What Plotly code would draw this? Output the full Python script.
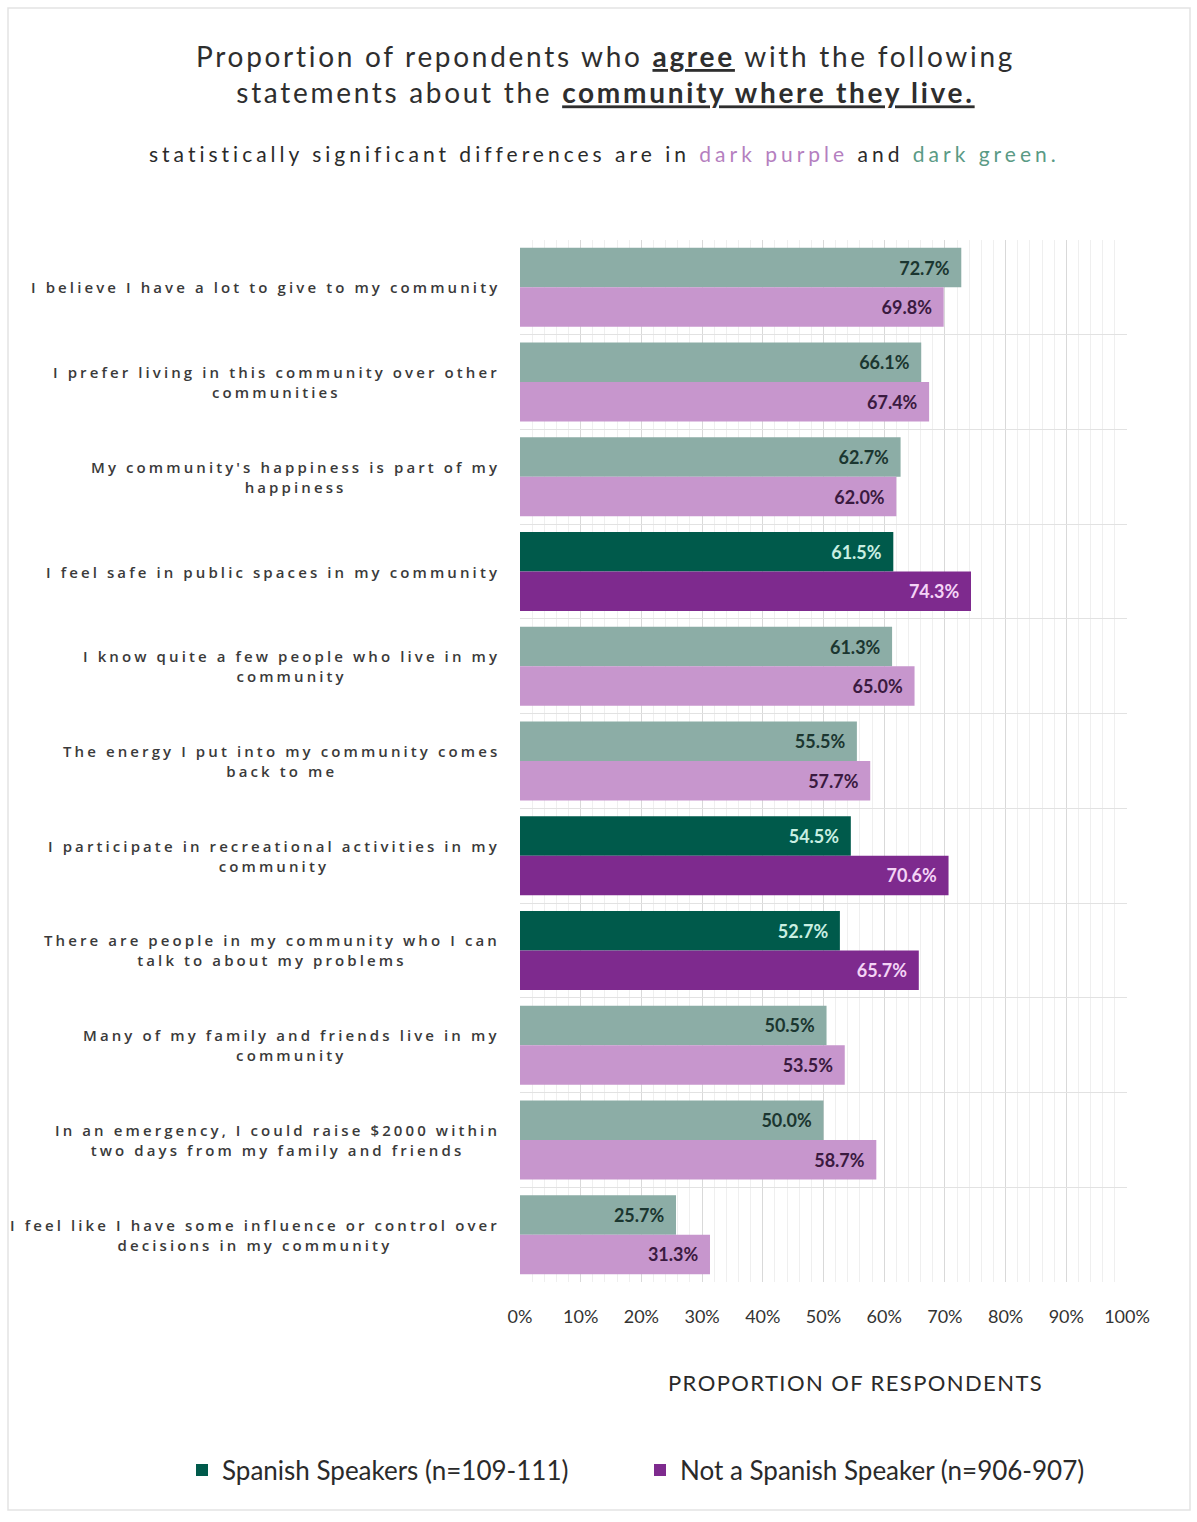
import plotly.graph_objects as go

# Survey statements, top to bottom (line breaks as displayed)
statements = [
    "I believe I have a lot to give to my community",
    "I prefer living in this community over other<br>communities",
    "My community's happiness is part of my<br>happiness",
    "I feel safe in public spaces in my community",
    "I know quite a few people who live in my<br>community",
    "The energy I put into my community comes<br>back to me",
    "I participate in recreational activities in my<br>community",
    "There are people in my community who I can<br>talk to about my problems",
    "Many of my family and friends live in my<br>community",
    "In an emergency, I could raise $2000 within<br>two days from my family and friends",
    "I feel like I have some influence or control over<br>decisions in my community",
]
spanish = [72.7, 66.1, 62.7, 61.5, 61.3, 55.5, 54.5, 52.7, 50.5, 50.0, 25.7]
not_spanish = [69.8, 67.4, 62.0, 74.3, 65.0, 57.7, 70.6, 65.7, 53.5, 58.7, 31.3]
significant = [False, False, False, True, False, False, True, True, False, False, False]

x_ticks = list(range(0, 101, 10))
x_tick_labels = [f"{v}%" for v in x_ticks]

GREEN_DARK, GREEN_LIGHT = "#005a4b", "#8cada6"
PURPLE_DARK, PURPLE_LIGHT = "#7e2a8e", "#c796cd"

W, H = 1197, 1522
L, R, T, B = 520, 70, 240, 240
plot_h = H - T - B
plot_w = W - L - R


def py(pix):
    """pixel row -> paper y"""
    return (H - B - pix) / plot_h


def px(pix):
    """pixel column -> paper x"""
    return (pix - L) / plot_w


def subset(vals, sig_flag):
    ys, xs = [], []
    for s, v, g in zip(statements, vals, significant):
        if g == sig_flag:
            ys.append(s)
            xs.append(v)
    return ys, xs


fig = go.Figure()

series = [
    ("Spanish Speakers (n=109-111)", spanish, "sp", GREEN_LIGHT, GREEN_DARK, "#1b3630", "#c9efe2"),
    ("Not a Spanish Speaker (n=906-907)", not_spanish, "ns", PURPLE_LIGHT, PURPLE_DARK, "#3a1a40", "#f4d4f6"),
]
for name, vals, grp, c_light, c_dark, t_light, t_dark in series:
    for sig, color, tcolor in [(False, c_light, t_light), (True, c_dark, t_dark)]:
        ys, xs = subset(vals, sig)
        fig.add_trace(go.Bar(
            x=xs, y=ys, orientation="h", name=name,
            offsetgroup=grp, legendgroup=grp, showlegend=sig,
            marker=dict(color=color, line=dict(width=0)),
            texttemplate="%{x:.1f}%\u00a0\u00a0", textposition="inside",
            insidetextanchor="end", textangle=0, constraintext="none",
            textfont=dict(family="Lato", size=18, color=tcolor, weight="bold"),
            hoverinfo="skip",
        ))

annotations = []
# statement labels, centered line by line
for s in statements:
    annotations.append(dict(
        x=0, xref="paper", y=s, yref="y", xanchor="right", yanchor="middle",
        xshift=-18, align="center", showarrow=False,
        text="<span style='letter-spacing:3.1px'>" + s + "</span>",
        font=dict(family="Open Sans", size=15, color="#3a3a3a", weight=600),
    ))

annotations += [
    dict(x=px(605), y=py(74), xref="paper", yref="paper", showarrow=False,
         xanchor="center", yanchor="middle", align="center",
         text="<span style='letter-spacing:2.7px'>Proportion of repondents who <b><u>agree</u></b> with the following"
              "<br>statements about the <b><u>community where they live.</u></b></span>",
         font=dict(family="Lato", size=28, color="#2e2e2e")),
    dict(x=px(604), y=py(153), xref="paper", yref="paper", showarrow=False,
         xanchor="center", yanchor="middle",
         text="<span style='letter-spacing:4px'>statistically significant differences are in "
              "<span style='color:#b57fc0'>dark purple</span> and "
              "<span style='color:#5a9a85'>dark green.</span></span>",
         font=dict(family="Lato", size=21, color="#2a2a2a")),
    dict(x=px(855), y=py(1382), xref="paper", yref="paper", showarrow=False,
         xanchor="center", yanchor="middle",
         text="<span style='letter-spacing:1.4px'>PROPORTION OF RESPONDENTS</span>",
         font=dict(family="Lato", size=22, color="#2a2a2a")),
]

shapes = [dict(type="rect", xref="paper", yref="paper",
               x0=px(8), x1=px(1190), y0=py(1510), y1=py(8),
               line=dict(color="#e3e3e3", width=1.5), fillcolor="rgba(0,0,0,0)", layer="below")]

fig.update_layout(
    width=W, height=H,
    margin=dict(l=L, r=R, t=T, b=B),
    paper_bgcolor="white", plot_bgcolor="white",
    barmode="group", bargap=0.166, bargroupgap=0,
    annotations=annotations, shapes=shapes,
    legend=dict(orientation="h", x=px(182), y=py(1470), xanchor="left", yanchor="middle",
                font=dict(family="Lato", size=26, color="#2a2a2a"),
                entrywidth=413, itemwidth=30, traceorder="normal"),
    xaxis=dict(range=[0, 100], tickvals=x_ticks, ticktext=x_tick_labels,
               showgrid=True, gridcolor="#d9d9d9", gridwidth=1,
               minor=dict(dtick=2, showgrid=True, gridcolor="#efefef", gridwidth=1),
               zeroline=False, showline=False, ticks="",
               ticklabelstandoff=22,
               tickfont=dict(family="Lato", size=18, color="#333333")),
    yaxis=dict(categoryorder="array", categoryarray=statements, autorange="reversed",
               showticklabels=False, tickson="boundaries", showgrid=True,
               gridcolor="#e2e2e2", gridwidth=1, ticks="", zeroline=False),
)

fig.write_html("out.html")
